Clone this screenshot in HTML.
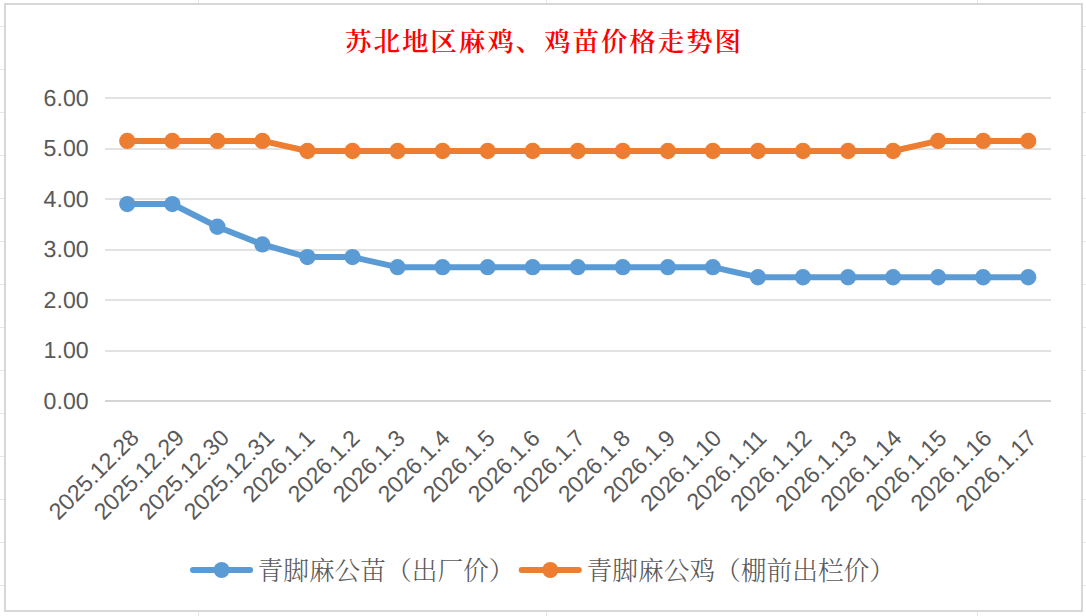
<!DOCTYPE html>
<html lang="zh-CN"><head><meta charset="utf-8"><title>苏北地区麻鸡、鸡苗价格走势图</title>
<style>
html,body{margin:0;padding:0;background:#fff;}
body{width:1086px;height:616px;overflow:hidden;}
svg{display:block;}
.num{font-family:"Liberation Sans",sans-serif;fill:#595959;}
.cjk{font-family:"Liberation Serif","Noto Serif CJK SC",serif;}
</style></head><body>
<svg width="1086" height="616" viewBox="0 0 1086 616">
<rect x="0" y="0" width="1086" height="616" fill="#ffffff"/>
<g fill="#e7e7e7" shape-rendering="crispEdges">
<rect x="0" y="26" width="1086" height="1"/>
<rect x="0" y="69" width="1086" height="1"/>
<rect x="0" y="112" width="1086" height="1"/>
<rect x="0" y="155" width="1086" height="1"/>
<rect x="0" y="198" width="1086" height="1"/>
<rect x="0" y="241" width="1086" height="1"/>
<rect x="0" y="284" width="1086" height="1"/>
<rect x="0" y="327" width="1086" height="1"/>
<rect x="0" y="370" width="1086" height="1"/>
<rect x="0" y="413" width="1086" height="1"/>
<rect x="0" y="456" width="1086" height="1"/>
<rect x="0" y="499" width="1086" height="1"/>
<rect x="0" y="542" width="1086" height="1"/>
<rect x="0" y="585" width="1086" height="1"/>
<rect x="198" y="0" width="1" height="616"/>
<rect x="546" y="0" width="1" height="616"/>
<rect x="977" y="0" width="1" height="616"/>
</g>
<rect x="5" y="4" width="1077" height="607" fill="#ffffff" stroke="#d7d7d7" stroke-width="2" shape-rendering="crispEdges"/>
<g fill="#e2e2e2" shape-rendering="crispEdges">
<rect x="105" y="97" width="946" height="2"/>
<rect x="105" y="148" width="946" height="2"/>
<rect x="105" y="198" width="946" height="2"/>
<rect x="105" y="249" width="946" height="2"/>
<rect x="105" y="299" width="946" height="2"/>
<rect x="105" y="350" width="946" height="2"/>
</g>
<rect x="105" y="400" width="946" height="2" fill="#d4d4d4" shape-rendering="crispEdges"/>
<g class="num" font-size="23.2" text-anchor="end">
<text transform="matrix(1,0,0.004,1,88.70,408.95)">0.00</text>
<text transform="matrix(1,0,0.004,1,88.70,358.45)">1.00</text>
<text transform="matrix(1,0,0.004,1,88.70,307.95)">2.00</text>
<text transform="matrix(1,0,0.004,1,88.70,257.45)">3.00</text>
<text transform="matrix(1,0,0.004,1,88.70,206.95)">4.00</text>
<text transform="matrix(1,0,0.004,1,88.70,156.45)">5.00</text>
<text transform="matrix(1,0,0.004,1,88.70,105.95)">6.00</text>
</g>
<polyline points="127.27,204.05 172.32,204.05 217.37,226.77 262.42,244.45 307.46,257.07 352.51,257.07 397.56,267.18 442.61,267.18 487.65,267.18 532.70,267.18 577.75,267.18 622.80,267.18 667.85,267.18 712.89,267.18 757.94,277.27 802.99,277.27 848.04,277.27 893.08,277.27 938.13,277.27 983.18,277.27 1028.23,277.27" fill="none" stroke="#5b9bd5" stroke-width="6" stroke-linejoin="round" stroke-linecap="round"/>
<g fill="#5b9bd5">
<circle cx="127.27" cy="204.05" r="8.15"/>
<circle cx="172.32" cy="204.05" r="8.15"/>
<circle cx="217.37" cy="226.77" r="8.15"/>
<circle cx="262.42" cy="244.45" r="8.15"/>
<circle cx="307.46" cy="257.07" r="8.15"/>
<circle cx="352.51" cy="257.07" r="8.15"/>
<circle cx="397.56" cy="267.18" r="8.15"/>
<circle cx="442.61" cy="267.18" r="8.15"/>
<circle cx="487.65" cy="267.18" r="8.15"/>
<circle cx="532.70" cy="267.18" r="8.15"/>
<circle cx="577.75" cy="267.18" r="8.15"/>
<circle cx="622.80" cy="267.18" r="8.15"/>
<circle cx="667.85" cy="267.18" r="8.15"/>
<circle cx="712.89" cy="267.18" r="8.15"/>
<circle cx="757.94" cy="277.27" r="8.15"/>
<circle cx="802.99" cy="277.27" r="8.15"/>
<circle cx="848.04" cy="277.27" r="8.15"/>
<circle cx="893.08" cy="277.27" r="8.15"/>
<circle cx="938.13" cy="277.27" r="8.15"/>
<circle cx="983.18" cy="277.27" r="8.15"/>
<circle cx="1028.23" cy="277.27" r="8.15"/>
</g>
<polyline points="127.27,140.92 172.32,140.92 217.37,140.92 262.42,140.92 307.46,151.02 352.51,151.02 397.56,151.02 442.61,151.02 487.65,151.02 532.70,151.02 577.75,151.02 622.80,151.02 667.85,151.02 712.89,151.02 757.94,151.02 802.99,151.02 848.04,151.02 893.08,151.02 938.13,140.92 983.18,140.92 1028.23,140.92" fill="none" stroke="#ed7d31" stroke-width="6" stroke-linejoin="round" stroke-linecap="round"/>
<g fill="#ed7d31">
<circle cx="127.27" cy="140.92" r="8.15"/>
<circle cx="172.32" cy="140.92" r="8.15"/>
<circle cx="217.37" cy="140.92" r="8.15"/>
<circle cx="262.42" cy="140.92" r="8.15"/>
<circle cx="307.46" cy="151.02" r="8.15"/>
<circle cx="352.51" cy="151.02" r="8.15"/>
<circle cx="397.56" cy="151.02" r="8.15"/>
<circle cx="442.61" cy="151.02" r="8.15"/>
<circle cx="487.65" cy="151.02" r="8.15"/>
<circle cx="532.70" cy="151.02" r="8.15"/>
<circle cx="577.75" cy="151.02" r="8.15"/>
<circle cx="622.80" cy="151.02" r="8.15"/>
<circle cx="667.85" cy="151.02" r="8.15"/>
<circle cx="712.89" cy="151.02" r="8.15"/>
<circle cx="757.94" cy="151.02" r="8.15"/>
<circle cx="802.99" cy="151.02" r="8.15"/>
<circle cx="848.04" cy="151.02" r="8.15"/>
<circle cx="893.08" cy="151.02" r="8.15"/>
<circle cx="938.13" cy="140.92" r="8.15"/>
<circle cx="983.18" cy="140.92" r="8.15"/>
<circle cx="1028.23" cy="140.92" r="8.15"/>
</g>
<g class="num" font-size="23.2" text-anchor="end">
<text transform="translate(140.47,439.00) rotate(-45)">2025.12.28</text>
<text transform="translate(185.52,439.00) rotate(-45)">2025.12.29</text>
<text transform="translate(230.57,439.00) rotate(-45)">2025.12.30</text>
<text transform="translate(275.62,439.00) rotate(-45)">2025.12.31</text>
<text transform="translate(316.16,439.70) rotate(-45)">2026.1.1</text>
<text transform="translate(361.21,439.70) rotate(-45)">2026.1.2</text>
<text transform="translate(406.26,439.70) rotate(-45)">2026.1.3</text>
<text transform="translate(451.31,439.70) rotate(-45)">2026.1.4</text>
<text transform="translate(496.35,439.70) rotate(-45)">2026.1.5</text>
<text transform="translate(541.40,439.70) rotate(-45)">2026.1.6</text>
<text transform="translate(586.45,439.70) rotate(-45)">2026.1.7</text>
<text transform="translate(631.50,439.70) rotate(-45)">2026.1.8</text>
<text transform="translate(676.55,439.70) rotate(-45)">2026.1.9</text>
<text transform="translate(722.89,439.60) rotate(-45)">2026.1.10</text>
<text transform="translate(767.94,439.60) rotate(-45)">2026.1.11</text>
<text transform="translate(812.99,439.60) rotate(-45)">2026.1.12</text>
<text transform="translate(858.04,439.60) rotate(-45)">2026.1.13</text>
<text transform="translate(903.08,439.60) rotate(-45)">2026.1.14</text>
<text transform="translate(948.13,439.60) rotate(-45)">2026.1.15</text>
<text transform="translate(993.18,439.60) rotate(-45)">2026.1.16</text>
<text transform="translate(1038.23,439.60) rotate(-45)">2026.1.17</text>
</g>
<text class="cjk" x="345.1" y="51.0" font-size="26.5" font-weight="600" fill="#ff0000" textLength="396" lengthAdjust="spacing">苏北地区麻鸡、鸡苗价格走势图</text>
<line x1="193.0" y1="570" x2="250.1" y2="570" stroke="#5b9bd5" stroke-width="6" stroke-linecap="round"/>
<circle cx="221.6" cy="570" r="8" fill="#5b9bd5"/>
<text class="cjk" x="257.5" y="579.5" font-size="25.7" font-weight="300" fill="#595959" textLength="257.0" lengthAdjust="spacing">青脚麻公苗（出厂价）</text>
<line x1="521.7" y1="570" x2="578.8" y2="570" stroke="#ed7d31" stroke-width="6" stroke-linecap="round"/>
<circle cx="550.3" cy="570" r="8" fill="#ed7d31"/>
<text class="cjk" x="586.6" y="579.5" font-size="25.7" font-weight="300" fill="#595959" textLength="308.4" lengthAdjust="spacing">青脚麻公鸡（棚前出栏价）</text>
</svg></body></html>
